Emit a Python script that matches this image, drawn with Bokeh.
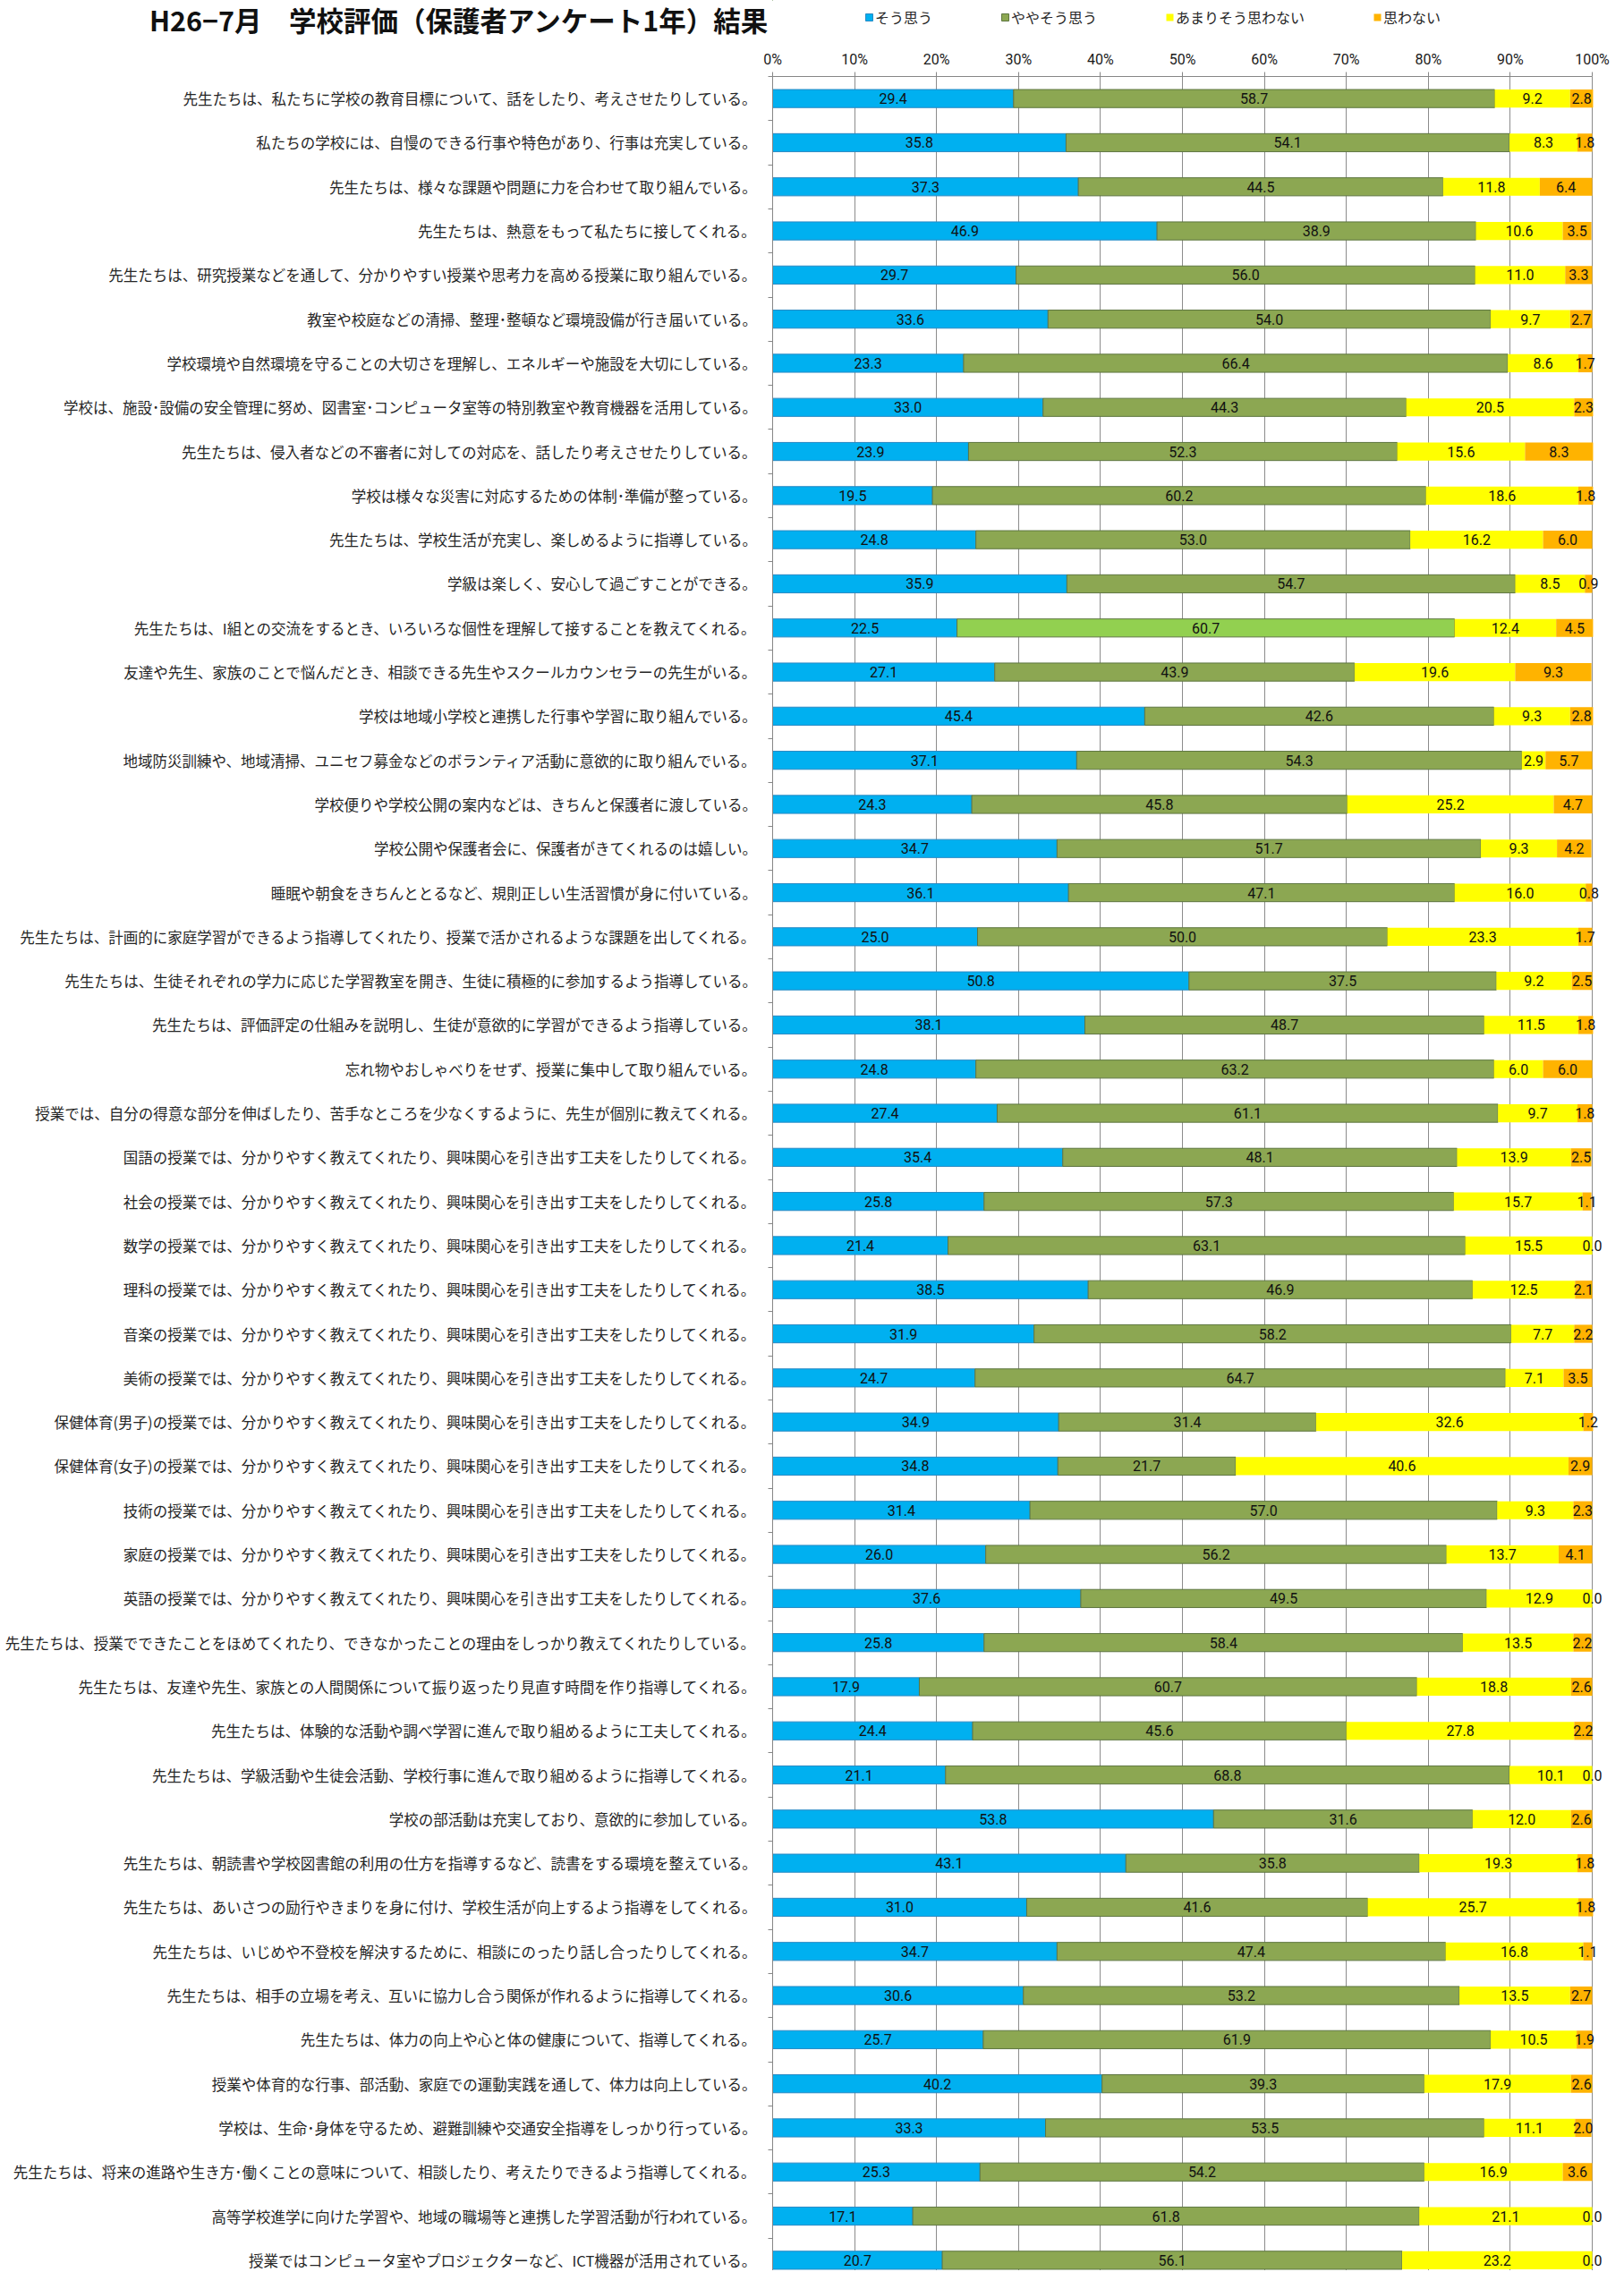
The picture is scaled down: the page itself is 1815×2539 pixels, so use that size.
from bokeh.plotting import figure
from bokeh.layouts import column
from bokeh.models import (ColumnDataSource, Range1d, FixedTicker, Legend, LegendItem,
                          LabelSet, PrintfTickFormatter)
from bokeh.core.properties import value
from bokeh.embed import file_html
from bokeh.resources import INLINE
import numpy as np

# ---------------- data ----------------
title_text = "H26−7月　学校評価（保護者アンケート1年）結果"
series_names = ["そう思う", "ややそう思う", "あまりそう思わない", "思わない"]

questions = [
    "先生たちは、私たちに学校の教育目標について、話をしたり、考えさせたりしている。",
    "私たちの学校には、自慢のできる行事や特色があり、行事は充実している。",
    "先生たちは、様々な課題や問題に力を合わせて取り組んでいる。",
    "先生たちは、熱意をもって私たちに接してくれる。",
    "先生たちは、研究授業などを通して、分かりやすい授業や思考力を高める授業に取り組んでいる。",
    "教室や校庭などの清掃、整理･整頓など環境設備が行き届いている。",
    "学校環境や自然環境を守ることの大切さを理解し、エネルギーや施設を大切にしている。",
    "学校は、施設･設備の安全管理に努め、図書室･コンピュータ室等の特別教室や教育機器を活用している。",
    "先生たちは、侵入者などの不審者に対しての対応を、話したり考えさせたりしている。",
    "学校は様々な災害に対応するための体制･準備が整っている。",
    "先生たちは、学校生活が充実し、楽しめるように指導している。",
    "学級は楽しく、安心して過ごすことができる。",
    "先生たちは、I組との交流をするとき、いろいろな個性を理解して接することを教えてくれる。",
    "友達や先生、家族のことで悩んだとき、相談できる先生やスクールカウンセラーの先生がいる。",
    "学校は地域小学校と連携した行事や学習に取り組んでいる。",
    "地域防災訓練や、地域清掃、ユニセフ募金などのボランティア活動に意欲的に取り組んでいる。",
    "学校便りや学校公開の案内などは、きちんと保護者に渡している。",
    "学校公開や保護者会に、保護者がきてくれるのは嬉しい。",
    "睡眠や朝食をきちんととるなど、規則正しい生活習慣が身に付いている。",
    "先生たちは、計画的に家庭学習ができるよう指導してくれたり、授業で活かされるような課題を出してくれる。",
    "先生たちは、生徒それぞれの学力に応じた学習教室を開き、生徒に積極的に参加するよう指導している。",
    "先生たちは、評価評定の仕組みを説明し、生徒が意欲的に学習ができるよう指導している。",
    "忘れ物やおしゃべりをせず、授業に集中して取り組んでいる。",
    "授業では、自分の得意な部分を伸ばしたり、苦手なところを少なくするように、先生が個別に教えてくれる。",
    "国語の授業では、分かりやすく教えてくれたり、興味関心を引き出す工夫をしたりしてくれる。",
    "社会の授業では、分かりやすく教えてくれたり、興味関心を引き出す工夫をしたりしてくれる。",
    "数学の授業では、分かりやすく教えてくれたり、興味関心を引き出す工夫をしたりしてくれる。",
    "理科の授業では、分かりやすく教えてくれたり、興味関心を引き出す工夫をしたりしてくれる。",
    "音楽の授業では、分かりやすく教えてくれたり、興味関心を引き出す工夫をしたりしてくれる。",
    "美術の授業では、分かりやすく教えてくれたり、興味関心を引き出す工夫をしたりしてくれる。",
    "保健体育(男子)の授業では、分かりやすく教えてくれたり、興味関心を引き出す工夫をしたりしてくれる。",
    "保健体育(女子)の授業では、分かりやすく教えてくれたり、興味関心を引き出す工夫をしたりしてくれる。",
    "技術の授業では、分かりやすく教えてくれたり、興味関心を引き出す工夫をしたりしてくれる。",
    "家庭の授業では、分かりやすく教えてくれたり、興味関心を引き出す工夫をしたりしてくれる。",
    "英語の授業では、分かりやすく教えてくれたり、興味関心を引き出す工夫をしたりしてくれる。",
    "先生たちは、授業でできたことをほめてくれたり、できなかったことの理由をしっかり教えてくれたりしている。",
    "先生たちは、友達や先生、家族との人間関係について振り返ったり見直す時間を作り指導してくれる。",
    "先生たちは、体験的な活動や調べ学習に進んで取り組めるように工夫してくれる。",
    "先生たちは、学級活動や生徒会活動、学校行事に進んで取り組めるように指導してくれる。",
    "学校の部活動は充実しており、意欲的に参加している。",
    "先生たちは、朝読書や学校図書館の利用の仕方を指導するなど、読書をする環境を整えている。",
    "先生たちは、あいさつの励行やきまりを身に付け、学校生活が向上するよう指導をしてくれる。",
    "先生たちは、いじめや不登校を解決するために、相談にのったり話し合ったりしてくれる。",
    "先生たちは、相手の立場を考え、互いに協力し合う関係が作れるように指導してくれる。",
    "先生たちは、体力の向上や心と体の健康について、指導してくれる。",
    "授業や体育的な行事、部活動、家庭での運動実践を通して、体力は向上している。",
    "学校は、生命･身体を守るため、避難訓練や交通安全指導をしっかり行っている。",
    "先生たちは、将来の進路や生き方･働くことの意味について、相談したり、考えたりできるよう指導してくれる。",
    "高等学校進学に向けた学習や、地域の職場等と連携した学習活動が行われている。",
    "授業ではコンピュータ室やプロジェクターなど、ICT機器が活用されている。",
]

agree = [29.4, 35.8, 37.3, 46.9, 29.7, 33.6, 23.3, 33.0, 23.9, 19.5,
         24.8, 35.9, 22.5, 27.1, 45.4, 37.1, 24.3, 34.7, 36.1, 25.0,
         50.8, 38.1, 24.8, 27.4, 35.4, 25.8, 21.4, 38.5, 31.9, 24.7,
         34.9, 34.8, 31.4, 26.0, 37.6, 25.8, 17.9, 24.4, 21.1, 53.8,
         43.1, 31.0, 34.7, 30.6, 25.7, 40.2, 33.3, 25.3, 17.1, 20.7]
somewhat = [58.7, 54.1, 44.5, 38.9, 56.0, 54.0, 66.4, 44.3, 52.3, 60.2,
            53.0, 54.7, 60.7, 43.9, 42.6, 54.3, 45.8, 51.7, 47.1, 50.0,
            37.5, 48.7, 63.2, 61.1, 48.1, 57.3, 63.1, 46.9, 58.2, 64.7,
            31.4, 21.7, 57.0, 56.2, 49.5, 58.4, 60.7, 45.6, 68.8, 31.6,
            35.8, 41.6, 47.4, 53.2, 61.9, 39.3, 53.5, 54.2, 61.8, 56.1]
not_much = [9.2, 8.3, 11.8, 10.6, 11.0, 9.7, 8.6, 20.5, 15.6, 18.6,
            16.2, 8.5, 12.4, 19.6, 9.3, 2.9, 25.2, 9.3, 16.0, 23.3,
            9.2, 11.5, 6.0, 9.7, 13.9, 15.7, 15.5, 12.5, 7.7, 7.1,
            32.6, 40.6, 9.3, 13.7, 12.9, 13.5, 18.8, 27.8, 10.1, 12.0,
            19.3, 25.7, 16.8, 13.5, 10.5, 17.9, 11.1, 16.9, 21.1, 23.2]
disagree = [2.8, 1.8, 6.4, 3.5, 3.3, 2.7, 1.7, 2.3, 8.3, 1.8,
            6.0, 0.9, 4.5, 9.3, 2.8, 5.7, 4.7, 4.2, 0.8, 1.7,
            2.5, 1.8, 6.0, 1.8, 2.5, 1.1, 0.0, 2.1, 2.2, 3.5,
            1.2, 2.9, 2.3, 4.1, 0.0, 2.2, 2.6, 2.2, 0.0, 2.6,
            1.8, 1.8, 1.1, 2.7, 1.9, 2.6, 2.0, 3.6, 0.0, 0.0]

x_ticks = [0, 10, 20, 30, 40, 50, 60, 70, 80, 90, 100]

# ---------------- styles / layout ----------------
colors = ["#00B0F0", "#8CA752", "#FFFF00", "#FFB300"]
line_colors = ["#2A8AC4", "#5E7640", None, None]
highlight_row = 12
highlight_green = "#92D050"

W, H_TOTAL = 1813, 2537
HEADER_H = 53
H = H_TOTAL - HEADER_H
FRAME_LEFT = 863
PX_PER_PCT = 9.16
FRAME_RIGHT = 1806
FRAME_TOP = 85 - HEADER_H
X_END = (FRAME_RIGHT - FRAME_LEFT) / PX_PER_PCT
BAND = 49.3
Y_TOP = -0.5
Y_BOTTOM = Y_TOP + (H - FRAME_TOP) / BAND
BAR_H = 0.41
TITLE_Y = 41
LEGEND_X = 966 - FRAME_LEFT
LEGEND_CENTER_Y = 22

n = len(questions)
ys = np.arange(n)
series = [np.array(agree), np.array(somewhat), np.array(not_much), np.array(disagree)]
cum = np.cumsum(np.vstack(series), axis=0)
lefts = np.vstack([np.zeros(n), cum[:-1]])
rights = cum

# ---------------- header (title + legend) ----------------
hdr = figure(width=W, height=HEADER_H, x_range=Range1d(0, 100), y_range=Range1d(HEADER_H, 0),
             x_axis_location=None, y_axis_location="left", output_backend="svg",
             toolbar_location=None, min_border_left=FRAME_LEFT, min_border_right=W - FRAME_RIGHT,
             min_border_top=0, min_border_bottom=0, outline_line_color=None)
hdr.grid.visible = False
ta = hdr.yaxis[0]
ta.ticker = FixedTicker(ticks=[TITLE_Y])
ta.major_label_overrides = {TITLE_Y: title_text}
ta.axis_line_color = None
ta.major_tick_line_color = None
ta.minor_tick_line_color = None
ta.major_tick_out = 0
ta.major_tick_in = 0
ta.major_label_standoff = 4
ta.major_label_text_font = "Noto Sans CJK JP"
ta.major_label_text_font_style = "bold"
ta.major_label_text_font_size = "30.5px"
ta.major_label_text_color = "#111111"

key_renderers = []
for k in range(4):
    # key swatches: one far off-screen bar each, only used to draw the legend glyph
    r = hdr.hbar(y=[-5000], left=[-5000], right=[-4999], height=1, fill_color=colors[k],
                 line_color=line_colors[k], line_width=1)
    key_renderers.append(r)
legend = Legend(items=[LegendItem(label=series_names[k], renderers=[key_renderers[k]]) for k in range(4)],
                orientation="horizontal", location=(LEGEND_X, HEADER_H - LEGEND_CENTER_Y - 9),
                spacing=76, padding=0, margin=0, glyph_width=10, glyph_height=10,
                label_standoff=2, label_text_font="Noto Sans CJK JP",
                label_text_font_size="16px", label_text_color="#262626", label_height=16,
                border_line_color=None, background_fill_alpha=0)
hdr.add_layout(legend)

# ---------------- main chart ----------------
p = figure(width=W, height=H, x_range=Range1d(0, X_END), y_range=Range1d(Y_BOTTOM, Y_TOP),
           x_axis_location="above", output_backend="svg", toolbar_location=None,
           min_border_left=FRAME_LEFT, min_border_right=W - FRAME_RIGHT,
           min_border_top=FRAME_TOP, min_border_bottom=0,
           outline_line_color=None, background_fill_color="white",
           border_fill_color="white")

p.ygrid.visible = False
p.xgrid.ticker = FixedTicker(ticks=x_ticks)
p.xgrid.grid_line_color = "#8C8C8C"
p.xgrid.grid_line_width = 1

xa = p.xaxis[0]
xa.ticker = FixedTicker(ticks=x_ticks)
xa.bounds = (0, 100)
xa.formatter = PrintfTickFormatter(format="%d%%")
xa.axis_line_color = "#868686"
xa.major_tick_line_color = "#868686"
xa.major_tick_out = 5
xa.major_tick_in = 0
xa.minor_tick_line_color = None
xa.major_label_standoff = 5
xa.major_label_text_font = "Roboto"
xa.major_label_text_font_size = "16px"
xa.major_label_text_color = "#1a1a1a"

ya = p.yaxis[0]
ya.ticker = FixedTicker(ticks=list(range(n)), minor_ticks=[i - 0.5 for i in range(n + 1)])
ya.major_label_overrides = {i: q for i, q in enumerate(questions)}
ya.major_tick_out = 0
ya.major_tick_in = 0
ya.major_tick_line_color = None
ya.minor_tick_out = 5
ya.minor_tick_in = 0
ya.minor_tick_line_color = "#868686"
ya.axis_line_color = "#868686"
ya.major_label_standoff = 12
ya.major_label_text_font = "Noto Sans CJK JP"
ya.major_label_text_font_size = "16.5px"
ya.major_label_text_color = "#262626"

data = dict(y=ys)
for k in range(4):
    data[f"l{k}"] = lefts[k]
    data[f"r{k}"] = rights[k]
data["green_fill"] = [highlight_green if i == highlight_row else colors[1] for i in range(n)]
src = ColumnDataSource(data)

for k in range(4):
    fc = "green_fill" if k == 1 else colors[k]
    p.hbar(y="y", left=f"l{k}", right=f"r{k}", height=BAR_H, source=src,
           fill_color=fc, line_color=line_colors[k], line_width=1)

lab = dict(x=[], y=[], t=[])
for k in range(4):
    for i in range(n):
        lab["x"].append((lefts[k][i] + rights[k][i]) / 2)
        lab["y"].append(i)
        lab["t"].append(f"{series[k][i]:.1f}")
lsrc = ColumnDataSource(lab)
p.add_layout(LabelSet(x="x", y="y", text="t", source=lsrc, text_align="center",
                      text_baseline="middle", text_font=value("Roboto"),
                      text_font_size=value("16px"), text_color=value("#111111")))

layout = column(hdr, p, spacing=0)
open("out.html", "w").write(file_html(layout, INLINE))
